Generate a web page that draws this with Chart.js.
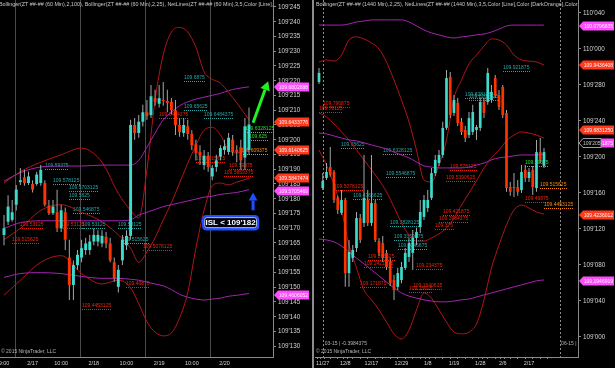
<!DOCTYPE html>
<html>
<head>
<meta charset="utf-8">
<script src="https://cdn.jsdelivr.net/npm/chart.js@4/dist/chart.umd.min.js"></script>
<style>
  html, body { margin: 0; padding: 0; background: #000; }
  #wrap { position: relative; width: 615px; height: 368px; overflow: hidden; background: #000; }
  #left { position: absolute; left: 0; top: 0; }
  #right { position: absolute; left: 315px; top: 0; }
  #split { position: absolute; left: 312px; top: 0; width: 2px; height: 368px; background: #8c8c8c; }
</style>
</head>
<body>
<div id="wrap">
  <canvas id="left" width="312" height="368"></canvas>
  <div id="split"></div>
  <canvas id="right" width="300" height="368"></canvas>
</div>
<script>
// ---- 60 min panel (left) ----
const leftOpen = [109.524,109.538,109.540,109.556,109.580,109.585,109.579,109.578,109.578,109.579,
  109.579,109.555,109.547,109.548,109.531,109.548,109.500,109.471,109.492,109.500,
  109.508,109.508,109.517,109.517,109.515,109.522,109.515,109.495,109.469,109.497,
  109.513,109.523,109.6405,109.632,109.644,109.654,109.651,109.669,109.663,109.667,
  109.666,109.665,109.656,109.6405,109.632,109.639,109.631,109.620,109.612,109.598,
  109.608,109.586,109.596,109.607,109.614,109.612,109.625,109.614,109.617,109.606,109.614];
const leftHigh = [109.545,109.566,109.561,109.577,109.595,109.593,109.591,109.582,109.591,109.598,
  109.582,109.561,109.561,109.572,109.556,109.553,109.519,109.497,109.508,109.519,
  109.521,109.524,109.531,109.529,109.529,109.527,109.521,109.500,109.492,109.524,
  109.529,109.646,109.648,109.651,109.662,109.667,109.683,109.678,109.683,109.686,
  109.678,109.669,109.667,109.648,109.648,109.646,109.635,109.625,109.619,109.614,
  109.612,109.598,109.609,109.619,109.625,109.632,109.630,109.619,109.625,109.648,109.659];
const leftLow = [109.513,109.5345,109.538,109.550,109.577,109.576,109.577,109.569,109.576,109.576,
  109.554,109.545,109.545,109.527,109.527,109.508,109.455,109.455,109.487,109.495,
  109.503,109.503,109.513,109.512,109.511,109.510,109.495,109.474,109.463,109.492,
  109.508,109.519,109.625,109.627,109.639,109.646,109.648,109.661,109.659,109.661,
  109.654,109.652,109.630,109.628,109.628,109.625,109.614,109.603,109.598,109.593,
  109.591,109.582,109.591,109.603,109.609,109.609,109.608,109.601,109.593,109.593,109.609];
const leftClose = [109.531,109.554,109.548,109.572,109.582,109.579,109.586,109.572,109.588,109.593,
  109.556,109.547,109.554,109.531,109.550,109.519,109.471,109.492,109.503,109.510,
  109.515,109.517,109.524,109.524,109.523,109.515,109.497,109.478,109.487,109.519,
  109.523,109.6405,109.632,109.644,109.654,109.650,109.671,109.665,109.669,109.666,
  109.664,109.656,109.6405,109.633,109.6405,109.631,109.619,109.611,109.608,109.608,
  109.596,109.595,109.603,109.616,109.618,109.627,109.612,109.612,109.603,109.639,109.641];

// bollinger bands, sampled at these bar indexes
const leftBandIdx = [0,4,9,14,19,24,28,31,33,35,37,39,41,43,45,47,49,51,53,55,57,60];
const leftUpper25 = [109.579,109.591,109.601,109.609,109.616,109.601,109.568,109.550,109.542,109.593,109.667,
  109.715,109.739,109.744,109.739,109.723,109.697,109.689,109.685,109.675,109.664,109.646];
const leftMid25 = [109.519,109.531,109.550,109.556,109.548,109.538,109.524,109.510,109.495,109.506,109.521,
  109.540,109.558,109.579,109.600,109.619,109.635,109.638,109.630,109.614,109.611,109.614];
const leftLower25 = [109.460,109.476,109.495,109.502,109.483,109.472,109.476,109.468,109.451,109.432,109.421,
  109.417,109.420,109.436,109.463,109.510,109.550,109.576,109.579,109.577,109.580,109.584];
const leftUpper100 = [109.581,109.590,109.596,109.597,109.597,109.598,109.598,109.598,109.603,109.617,109.632,
  109.646,109.654,109.661,109.665,109.668,109.670,109.672,109.674,109.677,109.679,109.681];
const leftMid100 = [109.531,109.537,109.539,109.539,109.539,109.539,109.539,109.540,109.545,109.548,109.551,
  109.554,109.556,109.558,109.560,109.562,109.564,109.565,109.567,109.568,109.569,109.572];
const leftLower100 = [109.479,109.483,109.484,109.483,109.480,109.478,109.478,109.477,109.476,109.474,109.472,
  109.470,109.466,109.461,109.458,109.456,109.455,109.456,109.457,109.459,109.460,109.462];

const leftYTickLabels = ["109'130","109'135","109'140","109'145","109'150","109'155","109'160","109'165",
  "109'170","109'175","109'180","109'185","109'190","109'195","109'200","109'205","109'210","109'215",
  "109'220","109'225","109'230","109'235","109'240","109'245"];
const leftTimeLabels = ["9:00","2/17","10:00","2/18","10:00","2/19","10:00","2/20"];
const leftTimePos = [0,7,14,22,30,38,46,54];
const leftSessionPos = [2.7,18.6,34.5,50.5];

const leftNoteText = ["109.6875","109.65625","109.6484375","109.6484375","109.6328125","109.625","109.609375",
  "109.6015625","109.59375","109.5859375","109.59375","109.578125","109.5703125","109.5625","109.546875",
  "109.53125","109.53125","109.53125","109.53125","109.515625","109.515625","109.5078125","109.46875","109.4453125"];
const leftNoteIdx = [44,44,49,38,59,60,58,47,55,54,10,12,16,16,17,4,14,19,28,2,29,34,30,19];
const leftNoteKind = ['t','t','t','r','g','g','o','r','r','r','t','t','t','t','t','r','r','t','t','r','t','r','r','r'];

const leftMarkText = ["109.6802888","109.6433776","109.6140625","109.5847474","109.5705469","109.4606052"];
const leftMarkKind = ['m','r','r','r','m','m'];

// ---- 1440 min panel (right) ----
const rightOpen = [109.884,109.516,109.551,109.589,109.572,109.482,109.430,109.475,109.221,109.273,
  109.308,109.412,109.395,109.475,109.395,109.464,109.332,109.325,109.291,109.259,
  109.197,109.173,109.197,109.239,109.277,109.291,109.343,109.381,109.416,109.447,
  109.482,109.568,109.603,109.631,109.725,109.902,109.777,109.812,109.746,109.718,
  109.700,109.711,109.718,109.725,109.815,109.815,109.822,109.898,109.839,109.867,
  109.777,109.520,109.520,109.520,109.509,109.579,109.551,109.579,109.516,109.641,109.593];
const rightHigh = [109.933,109.568,109.603,109.659,109.579,109.489,109.509,109.482,109.336,109.318,
  109.433,109.426,109.631,109.509,109.631,109.475,109.343,109.350,109.301,109.273,
  109.214,109.239,109.259,109.308,109.343,109.3705,109.378,109.475,109.492,109.509,
  109.586,109.631,109.648,109.746,109.926,109.919,109.839,109.829,109.759,109.732,
  109.780,109.805,109.735,109.829,109.829,109.933,109.874,109.909,109.857,109.874,
  109.787,109.537,109.568,109.544,109.596,109.596,109.586,109.593,109.683,109.690,109.655];
const rightLow = [109.877,109.509,109.544,109.555,109.464,109.426,109.423,109.173,109.173,109.259,
  109.294,109.325,109.381,109.384,109.384,109.329,109.280,109.259,109.232,109.176,
  109.1275,109.162,109.186,109.232,109.259,109.232,109.318,109.360,109.405,109.433,
  109.475,109.558,109.593,109.621,109.718,109.759,109.766,109.732,109.700,109.676,
  109.690,109.700,109.683,109.714,109.759,109.805,109.812,109.829,109.787,109.759,
  109.503,109.489,109.485,109.489,109.499,109.537,109.537,109.492,109.503,109.603,109.586];
const rightClose = [109.916,109.541,109.572,109.562,109.475,109.440,109.475,109.221,109.294,109.301,
  109.412,109.336,109.482,109.395,109.464,109.336,109.291,109.273,109.242,109.186,
  109.162,109.221,109.242,109.291,109.325,109.343,109.364,109.433,109.475,109.475,
  109.568,109.614,109.631,109.725,109.898,109.770,109.822,109.742,109.711,109.690,
  109.759,109.780,109.728,109.815,109.777,109.916,109.850,109.839,109.798,109.770,
  109.516,109.503,109.516,109.503,109.572,109.551,109.572,109.520,109.641,109.614,109.641];

const rightBandIdx = [0,2,4,6,8,10,12,14,16,18,20,22,24,26,28,30,32,34,36,38,40,42,44,46,48,50,52,54,56,58,60];
const rightUpper25 = [109.954,109.961,109.957,109.978,110.030,110.041,110.034,110.020,109.999,109.954,109.891,
  109.822,109.746,109.648,109.544,109.537,109.596,109.683,109.829,109.891,109.947,109.978,110.009,110.034,
  110.030,110.013,109.978,109.961,109.957,109.954,109.943];
const rightMid25 = [109.777,109.763,109.739,109.711,109.683,109.648,109.614,109.579,109.544,109.503,109.450,
  109.395,109.353,109.332,109.332,109.343,109.357,109.378,109.412,109.457,109.499,109.541,109.586,109.621,
  109.648,109.680,109.700,109.711,109.707,109.700,109.690];
const rightLower25 = [109.648,109.596,109.527,109.440,109.318,109.239,109.162,109.128,109.093,109.051,109.010,
  108.992,109.023,109.093,109.152,109.134,109.093,109.051,109.016,109.010,109.016,109.044,109.128,109.239,
  109.318,109.388,109.440,109.457,109.447,109.433,109.426];
const rightUpper100 = [110.082,110.082,110.082,110.082,110.086,110.093,110.096,110.100,110.100,110.100,110.100,
  110.100,110.093,110.079,110.065,110.055,110.048,110.041,110.037,110.041,110.044,110.048,110.051,110.058,
  110.068,110.079,110.082,110.082,110.082,110.082,110.082];
const rightMid100 = [109.707,109.704,109.697,109.690,109.683,109.680,109.673,109.666,109.659,109.652,109.641,
  109.631,109.621,109.607,109.593,109.589,109.586,109.586,109.586,109.586,109.589,109.596,109.603,109.614,
  109.621,109.624,109.628,109.631,109.631,109.631,109.634];
const rightLower100 = [109.339,109.336,109.329,109.315,109.294,109.273,109.253,109.232,109.211,109.190,109.169,
  109.152,109.141,109.134,109.128,109.124,109.121,109.121,109.124,109.128,109.131,109.138,109.145,109.152,
  109.159,109.166,109.173,109.180,109.187,109.194,109.197];

const rightYTickLabels = ["109'000","109'040","109'080","109'120","109'160","109'200","109'240","109'280","110'000","110'040"];
const rightDateLabels = ["11/27","12/8","12/17","12/29","1/8","1/19","1/28","2/6","2/17"];
const rightDatePos = [1,7,14,22,29,36,43,49,56];
const rightRollPos = [1,64.3];

const rightNoteText = ["109.796875","109.78125","109.65625","109.6328125","109.5546875","109.5078125","109.4765625",
  "109.3828125","109.3359375","109.3046875","109.265625","109.2421875","109.234375","109.171875","109.1640625",
  "109.15625","109.921875","109.828125","109.8203125","109.578125","109.5390625","109.421875","109.3984375",
  "109.375","109.59375","109.515625","109.46875","109.4453125"];
const rightNoteIdx = [1,0,6,17,18,4,9,19,20,21,13,12,26,11,25,24,49,39,40,35,34,33,32,31,55,59,55,60];
const rightNoteKind = ['r','r','t','t','t','r','t','t','t','t','r','r','r','r','r','r','t','t','t','r','r','r','r','r','g','o','r','o'];

const rightMarkText = ["110.0796835","109.9436408","109.6341875","109'205","109.6831250","109.4236012","109.1946919"];
const rightMarkKind = ['m','r','m','g','r','r','m'];

// ---- look ----
const FONT = "'Liberation Sans', Arial, sans-serif";
const UP = '#3ddbcc', DOWN = '#ff3300', FLAT = '#8a8a8a', WICK = '#a6a6a6';
const RED_LINE = '#b3141a', MAG_LINE = '#a623b0';
const NOTE = { t: '#26a7a4', r: '#ec2208', o: '#ff8c00', g: '#22e022' };
const MARK = { m: '#ff4cff', r: '#ff3a1c', g: '#000' };
const AXIS = '#8a8a8a', LABEL = '#d2d2d2';

Chart.defaults.font.family = FONT;
Chart.defaults.color = LABEL;

function parse32(s) {
  const [a, b] = s.split("'");
  return Number(a) + Number(b) / 320;
}
function markValue(t) {
  return t.includes("'") ? parse32(t) : Number(t);
}

function candleSets(open, high, low, close) {
  const wick = [], body = [], colors = [];
  for (let i = 0; i < open.length; i++) {
    wick.push({ x: i, y: [low[i], high[i]] });
    body.push({ x: i, y: [open[i], close[i]] });
    colors.push(close[i] > open[i] ? UP : close[i] < open[i] ? DOWN : FLAT);
  }
  return [
    { type: 'bar', data: wick, backgroundColor: WICK, maxBarThickness: 1, grouped: false, order: 1 },
    { type: 'bar', data: body, backgroundColor: colors, maxBarThickness: 3, minBarLength: 1, grouped: false, order: 0 },
  ];
}
function band(idx, vals, color) {
  return {
    type: 'line', data: idx.map((k, n) => ({ x: k, y: vals[n] })),
    borderColor: color, borderWidth: 1, pointRadius: 0,
    cubicInterpolationMode: 'monotone', order: 2,
  };
}

function arrow(ctx, x1, y1, x2, y2, color, w, head) {
  const a = Math.atan2(y2 - y1, x2 - x1);
  const bx = x2 - head * Math.cos(a), by = y2 - head * Math.sin(a);
  const sx = head * 0.55 * Math.sin(a), sy = head * 0.55 * Math.cos(a);
  ctx.strokeStyle = color; ctx.fillStyle = color; ctx.lineWidth = w;
  ctx.beginPath(); ctx.moveTo(x1, y1); ctx.lineTo(bx, by); ctx.stroke();
  ctx.beginPath(); ctx.moveTo(x2, y2); ctx.lineTo(bx + sx, by - sy); ctx.lineTo(bx - sx, by + sy);
  ctx.closePath(); ctx.fill();
}

function overlay(d) {
  return {
    id: 'overlay',
    beforeDatasetsDraw(chart) {
      const { ctx, chartArea: a, scales: { x, y } } = chart;
      ctx.save();
      ctx.strokeStyle = d.vColor; ctx.lineWidth = 1; ctx.setLineDash(d.vDash);
      d.vlines.forEach(v => {
        const px = Math.round(x.getPixelForValue(v)) + 0.5;
        ctx.beginPath(); ctx.moveTo(px, a.top); ctx.lineTo(px, a.bottom); ctx.stroke();
      });
      ctx.setLineDash([]);
      ctx.font = '5px ' + FONT; ctx.textBaseline = 'bottom';
      d.noteText.forEach((t, n) => {
        const px = Math.round(x.getPixelForValue(d.noteIdx[n]));
        const py = Math.round(y.getPixelForValue(Number(t)));
        ctx.fillStyle = NOTE[d.noteKind[n]];
        ctx.fillText(t, px, py - 1);
        const w = ctx.measureText(t).width;
        for (let k = 0; k < w; k += 2) ctx.fillRect(px + k, py, 1, 1);
      });
      ctx.restore();
    },
    afterDraw(chart) {
      const { ctx, chartArea: a, scales: { x, y } } = chart;
      ctx.save();
      // price scale labels
      ctx.font = '6.3px ' + FONT; ctx.fillStyle = LABEL; ctx.textBaseline = 'middle'; ctx.textAlign = 'left';
      d.yLabels.forEach(t => {
        ctx.fillText(t, a.right + 5, Math.round(y.getPixelForValue(parse32(t))) + 0.5);
      });
      // header line
      ctx.save();
      ctx.beginPath(); ctx.rect(a.left, 0, a.right - a.left, 12); ctx.clip();
      ctx.font = '5.4px ' + FONT; ctx.fillStyle = '#c8c8c8'; ctx.textBaseline = 'middle';
      ctx.fillText(d.title, a.left + d.titleX, 5);
      ctx.restore();
      ctx.font = '5px ' + FONT; ctx.fillStyle = '#b4b4b4'; ctx.textBaseline = 'middle';
      ctx.fillText('\u00a9 2015 NinjaTrader, LLC', a.left + 1, a.bottom - 5);
      if (d.extra) d.extra(chart, ctx, a, x, y);
      // price markers on the axis
      ctx.font = '5px ' + FONT; ctx.textBaseline = 'middle';
      d.markText.forEach((t, n) => {
        const k = d.markKind[n];
        const yy = Math.round(y.getPixelForValue(markValue(t))) + (d.markShift ? d.markShift[n] : 0);
        const x0 = a.right + 1, w = k === 'g' ? 22 : 35, h = 9;
        ctx.beginPath();
        ctx.moveTo(x0, yy); ctx.lineTo(x0 + 4, yy - h / 2); ctx.lineTo(x0 + w, yy - h / 2);
        ctx.lineTo(x0 + w, yy + h / 2); ctx.lineTo(x0 + 4, yy + h / 2); ctx.closePath();
        ctx.fillStyle = MARK[k]; ctx.fill();
        if (k === 'g') {
          ctx.strokeStyle = '#a0a0a0'; ctx.lineWidth = 1; ctx.stroke();
          ctx.fillStyle = '#c8c8c8'; ctx.textAlign = 'left';
          ctx.fillText(t, x0 + 4, yy + 0.5);
        } else {
          ctx.fillStyle = '#fff4ff'; ctx.textAlign = 'right';
          ctx.fillText(t, x0 + w - 1, yy + 0.5);
        }
      });
      ctx.restore();
    },
  };
}

function makeChart(id, c) {
  const yTicks = c.yTickLabels.map(parse32);
  return new Chart(document.getElementById(id), {
    type: 'bar',
    data: {
      datasets: [
        band(c.bandIdx, c.bands[0], MAG_LINE), band(c.bandIdx, c.bands[1], MAG_LINE), band(c.bandIdx, c.bands[2], MAG_LINE),
        band(c.bandIdx, c.bands[3], RED_LINE), band(c.bandIdx, c.bands[4], RED_LINE), band(c.bandIdx, c.bands[5], RED_LINE),
        ...candleSets(c.open, c.high, c.low, c.close),
      ],
    },
    options: {
      responsive: false, animation: false, events: [],
      layout: { padding: 0 },
      plugins: { legend: { display: false }, tooltip: { enabled: false } },
      scales: {
        x: {
          type: 'linear', min: c.xMin, max: c.xMax, offset: false,
          grid: { drawOnChartArea: false, drawTicks: c.xTickLen > 0, tickLength: c.xTickLen, color: AXIS },
          border: { display: true, color: AXIS },
          ticks: {
            autoSkip: false, maxRotation: 0, padding: c.xTickLen > 0 ? 1 : 3,
            font: { size: 5.5 }, color: LABEL,
            callback: v => { const i = c.xLabelPos.indexOf(v); return i >= 0 ? c.xLabels[i] : ''; },
          },
          afterBuildTicks: s => { s.ticks = c.xTicks.map(v => ({ value: v })); },
          afterFit: s => { s.height = 11; s.paddingLeft = 0; s.paddingRight = 0; },
        },
        y: {
          type: 'linear', position: 'right', min: c.yMin, max: c.yMax,
          grid: { drawOnChartArea: false, tickLength: 3, color: AXIS },
          border: { display: true, color: AXIS },
          ticks: { display: false },
          afterBuildTicks: s => { s.ticks = yTicks.map(v => ({ value: v })); },
          afterFit: s => { s.width = c.axisW; s.paddingTop = 0; s.paddingBottom = 0; },
        },
      },
    },
    plugins: [overlay(Object.assign({ yLabels: c.yTickLabels }, c.deco))],
  });
}

makeChart('left', {
  open: leftOpen, high: leftHigh, low: leftLow, close: leftClose,
  bandIdx: leftBandIdx,
  bands: [leftUpper100, leftMid100, leftLower100, leftUpper25, leftMid25, leftLower25],
  xMin: -0.98, xMax: 65.88, yMin: 109.3946, yMax: 109.7730, axisW: 39,
  xTicks: leftTimePos, xLabelPos: leftTimePos, xLabels: leftTimeLabels, xTickLen: 0,
  yTickLabels: leftYTickLabels,
  deco: {
    vlines: leftSessionPos, vColor: '#4a4a4a', vDash: [],
    noteText: leftNoteText, noteIdx: leftNoteIdx, noteKind: leftNoteKind,
    markText: leftMarkText, markKind: leftMarkKind,
    title: 'Bollinger(ZT ##-## (60 Min),2,100), Bollinger(ZT ##-## (60 Min),2,25), NetLines(ZT ##-## (60 Min),3,5,Color [Line],Color [DarkOrange],Color [Teal])',
    titleX: -1,
    extra(chart, ctx, a, x, y) {
      // stop level box with arrows
      const bx0 = x.getPixelForValue(48.8), bx1 = x.getPixelForValue(62.2);
      const by = y.getPixelForValue(109.537);
      ctx.beginPath(); ctx.roundRect(bx0, by - 6.5, bx1 - bx0, 13, 3);
      ctx.fillStyle = '#000010'; ctx.fill();
      ctx.strokeStyle = '#1f4dff'; ctx.lineWidth = 2.5; ctx.stroke();
      ctx.beginPath(); ctx.roundRect(bx0 + 1.5, by - 5, bx1 - bx0 - 3, 10, 2);
      ctx.strokeStyle = '#e8ecff'; ctx.lineWidth = 0.8; ctx.stroke();
      ctx.font = 'bold 8px ' + FONT; ctx.fillStyle = '#ffffff';
      ctx.textAlign = 'center'; ctx.textBaseline = 'middle';
      ctx.fillText("ISL < 109'182", (bx0 + bx1) / 2, by + 0.5);
      ctx.textAlign = 'left';
      const ax = x.getPixelForValue(61);
      arrow(ctx, ax, y.getPixelForValue(109.550), ax, y.getPixelForValue(109.569), '#1f4dff', 3, 8);
      arrow(ctx, ax, y.getPixelForValue(109.643), x.getPixelForValue(64.7), y.getPixelForValue(109.687), '#22f022', 3, 9);
    },
  },
});

const rightTicks = Array.from(new Set([...rightDatePos, ...rightBandIdx])).sort((a, b) => a - b);
makeChart('right', {
  open: rightOpen, high: rightHigh, low: rightLow, close: rightClose,
  bandIdx: rightBandIdx,
  bands: [rightUpper100, rightMid100, rightLower100, rightUpper25, rightMid25, rightLower25],
  xMin: -1.067, xMax: 69.07, yMin: 108.9295, yMax: 110.1691, axisW: 37,
  xTicks: rightTicks, xLabelPos: rightDatePos, xLabels: rightDateLabels, xTickLen: 2,
  yTickLabels: rightYTickLabels,
  deco: {
    vlines: rightRollPos, vColor: '#8a8a8a', vDash: [2, 2],
    noteText: rightNoteText, noteIdx: rightNoteIdx, noteKind: rightNoteKind,
    markText: rightMarkText, markKind: rightMarkKind, markShift: [0, 0, -11, -9, -10, 0, 0],
    title: 'Bollinger(ZT ##-## (1440 Min),2,25), NetLines(ZT ##-## (1440 Min),3,5,Color [Line],Color [DarkOrange],Color [Teal]',
    titleX: 1,
    extra(chart, ctx, a, x, y) {
      ctx.font = '5px ' + FONT; ctx.fillStyle = '#b4b4b4'; ctx.textBaseline = 'middle';
      ctx.fillText('03-15 | -0.3984375', x.getPixelForValue(rightRollPos[0]) + 2, a.bottom - 13);
      ctx.fillText('06-15 |', x.getPixelForValue(rightRollPos[1]) + 1, a.bottom - 13);
    },
  },
});
</script>
</body>
</html>
